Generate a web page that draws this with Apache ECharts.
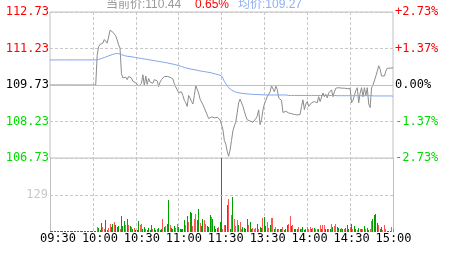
<!DOCTYPE html>
<html><head><meta charset="utf-8">
<script src="https://cdn.jsdelivr.net/npm/echarts@6/dist/echarts.min.js"></script>
<style>html,body{margin:0;padding:0;background:#fff}#c{width:463px;height:255px}</style>
</head><body><div id="c"></div><script>
const prevClose = 109.73;
const timeLabels = ['09:30','10:00','10:30','11:00','11:30','13:30','14:00','14:30','15:00'];
const prices = [
109.73,109.73,109.73,109.73,109.73,109.73,109.73,109.73,109.73,109.73,
109.73,109.73,109.73,109.73,109.73,109.73,109.73,109.73,109.73,109.73,
109.73,109.73,109.73,109.73,109.73,109.73,109.73,109.73,109.73,109.73,
109.73,109.73,109.73,110.95,111.30,111.40,111.47,111.45,111.60,111.58,
111.45,111.70,111.98,111.95,111.90,111.88,111.75,111.58,111.38,111.25,
110.20,110.02,109.98,110.05,109.95,110.08,110.12,110.02,109.88,109.92,
109.82,109.78,109.68,109.72,109.80,110.15,109.70,110.10,109.75,110.00,
109.85,109.92,109.80,109.95,109.88,109.90,109.66,109.85,109.95,110.00,
110.08,110.06,110.08,110.03,110.05,110.00,109.98,109.78,109.65,109.53,
109.42,109.38,109.45,109.30,109.10,109.00,108.85,109.30,109.20,109.05,
108.95,109.30,109.70,109.62,109.40,109.15,109.08,108.92,108.78,108.70,
108.50,108.35,108.28,108.42,108.46,108.38,108.44,108.40,108.35,108.30,
108.25,107.90,107.45,107.30,107.00,106.80,107.05,107.45,107.85,108.05,
108.20,108.60,109.00,109.15,109.12,108.85,108.65,108.45,108.30,108.35,
108.25,108.30,108.20,108.25,108.35,108.45,108.71,108.10,108.30,108.70,
108.95,109.10,109.25,109.35,109.45,109.70,109.78,109.45,109.68,109.55,
109.20,109.15,109.10,108.60,108.55,108.65,108.62,108.58,108.60,108.55,
108.58,108.52,108.55,108.50,108.55,108.52,108.85,109.12,108.72,108.95,
109.05,108.85,108.82,109.00,108.95,109.05,109.12,109.00,109.25,109.05,
109.05,109.40,109.25,109.35,109.20,109.40,109.45,109.53,109.25,109.45,
109.60,109.62,109.62,109.60,109.60,109.61,109.60,109.58,109.58,109.60,
109.58,109.00,109.10,109.30,109.50,109.62,109.00,109.40,109.62,109.25,
109.62,109.30,109.62,108.95,108.80,109.61,109.73,109.80,110.10,110.30,
110.52,110.38,110.10,110.08,110.10,110.30,110.42,110.44,110.42,110.44,
110.44
];
const avgPrices = [
110.76,110.76,110.76,110.76,110.76,110.76,110.76,110.76,110.76,110.76,
110.76,110.76,110.76,110.76,110.76,110.76,110.76,110.76,110.76,110.76,
110.76,110.76,110.76,110.76,110.76,110.76,110.76,110.76,110.76,110.76,
110.76,110.76,110.76,110.76,
110.78,110.80,110.82,110.84,110.86,110.88,110.90,110.92,110.95,110.97,110.99,111.01,111.02,111.03,
111.02,111.00,110.98,110.96,110.94,110.92,110.91,110.90,110.90,110.89,110.88,110.87,110.86,
110.85,110.84,110.83,110.82,110.81,110.80,110.79,110.78,110.77,110.76,110.75,110.74,110.73,110.72,110.71,
110.70,110.69,110.68,110.67,110.66,110.65,110.64,110.62,110.61,110.60,110.59,110.58,110.56,110.55,110.53,
110.51,110.49,110.47,110.45,110.43,110.42,110.40,110.39,110.38,110.37,110.36,110.35,110.34,110.32,110.31,
110.30,110.29,110.28,110.27,110.26,110.25,110.24,110.22,110.21,110.20,110.18,110.17,110.15,110.13,110.10,
110.00,109.88,109.78,109.70,109.62,109.56,109.52,109.49,109.46,109.44,109.42,109.41,109.40,109.39,109.38,
109.37,109.37,109.36,109.36,109.35,109.35,109.35,109.34,109.34,109.34,109.33,109.33,109.33,109.33,109.33,
109.32,109.32,109.32,109.32,109.32,109.32,109.32,109.32,109.32,109.32,109.32,109.32,109.32,109.32,109.32,
109.30,109.30,109.30,109.30,109.30,109.30,109.30,109.30,109.30,109.30,
109.30,109.30,109.30,109.30,109.30,109.30,109.30,109.30,109.30,109.30,
109.30,109.30,109.30,109.30,109.30,109.30,109.30,109.30,109.30,109.30,
109.30,109.30,109.30,109.30,109.30,
109.29,109.29,109.29,109.29,109.29,109.29,109.29,109.29,109.29,109.29,
109.29,109.29,109.29,109.29,109.29,109.29,109.29,109.29,109.29,109.29,
109.29,109.29,109.29,109.29,109.29,
109.28,109.28,109.28,109.28,109.28,109.28,109.28,109.28,109.28,109.28,109.28,109.28,109.28,109.28,
109.27
];
const volumes = [
4,4,4,4,4,4,4,4,4,4,
4,4,4,4,4,4,4,4,4,4,
4,4,4,4,4,4,4,4,4,4,
4,4,4,17,14,8,32,17,10,42,
8,14,28,17,28,35,24,17,21,10,
56,20,38,24,45,24,21,17,10,14,
7,8,38,24,28,10,17,10,8,14,
7,24,10,14,8,10,14,8,10,47,
18,21,29,111,23,15,10,21,14,27,
17,9,9,12,41,23,56,35,70,67,
20,46,64,41,81,31,20,46,41,29,
21,17,60,52,46,21,10,15,17,35,
258,12,23,23,93,116,12,60,122,47,
20,43,23,35,9,17,14,10,46,25,
35,12,14,12,15,29,12,17,14,50,
52,20,35,14,23,50,50,10,17,9,
12,9,9,17,8,12,23,29,56,21,
25,12,9,12,17,9,12,17,6,10,
17,12,17,12,15,15,12,12,12,23,
9,25,25,9,12,12,10,29,17,20,
27,17,15,10,15,12,12,14,25,10,
17,29,12,21,9,8,15,12,9,9,
20,9,15,8,12,37,46,60,64,30,
25,12,17,6,25,12,3,3,3,17,
10
];
const volDir = ('gggggggggg gggggggggg gggggggggg gggrgggrrg grrggrgggr gggrgrgrgr gggrrggrgg ggrggrgggr ' +
  'grggrgggrr gggggrgrgg rrrggrggrr gggrggggrg grrggrgrgr rrgrrggggr ggrrrgrggr ggrrgrrgrg ' +
  'rggrgggrrg rgggrgrggg rrrgrgrrgr grrggrgrgr rgggrgrggg rgrggrgrgr grggrrgggg rggrrrgggr r').replace(/ /g,'').split('');

const times = [];
const fmt = m => String(Math.floor(m/60)).padStart(2,'0') + ':' + String(m%60).padStart(2,'0');
for (let m = 9*60+30; m <= 11*60+30; m++) times.push(fmt(m));
for (let m = 13*60+1; m <= 15*60; m++) times.push(fmt(m));

const mono = '"DejaVu Sans Mono", monospace';
const UP = '#ff0000', DOWN = '#00dd00';
const BAR_UP = '#ff5555', BAR_DOWN = '#00a000';
const gridLine = '#c0c0c0';
const dashed = {type:[3,2], color:'#c8c8c8', width:1};
const isSplit = (i) => i > 0 && i < times.length - 1 && i % 30 === 0;
const signColor = v => { v = +v; return v > 1e-9 ? UP : (v < -1e-9 ? DOWN : '#000'); };

const lastPrice = prices[prices.length-1];
const chgPct = (lastPrice - prevClose) / prevClose * 100;
const lastAvg = avgPrices[avgPrices.length-1];

const chart = echarts.init(document.getElementById('c'));
const catAxis = (gi) => ({
  gridIndex: gi, type:'category', data: times, boundaryGap:false,
  axisLine:{show:false}, axisTick:{show:false}, axisLabel:{show:false},
  splitLine:{show:true, interval:(i)=>isSplit(i), lineStyle:dashed}
});
chart.setOption({
  animation:false,
  grid:[
    {left:50, width:343, top:12, height:146, show:true, borderColor:gridLine, borderWidth:1, backgroundColor:'transparent'},
    {left:50, width:343, top:158, height:74},
    {left:58, width:335.5, top:231, height:1}
  ],
  xAxis:[
    catAxis(0), catAxis(1),
    {gridIndex:2, type:'category', data: timeLabels, boundaryGap:false,
     axisLine:{show:false}, axisTick:{show:false}, splitLine:{show:false},
     axisLabel:{show:true, interval:0, margin:1, color:'#000', fontSize:12, fontFamily:mono}}
  ],
  yAxis:[
    {gridIndex:0, type:'value', min:-3, max:3, interval:1.5, position:'left',
     axisLine:{show:false}, axisTick:{show:false},
     splitLine:{show:true, lineStyle:dashed},
     axisLabel:{margin:1, fontSize:12, fontFamily:mono,
       formatter: v => (prevClose + v).toFixed(2), color: v => signColor(v)}},
    {gridIndex:0, type:'value', min:-3, max:3, interval:1.5, position:'right',
     axisLine:{show:false}, axisTick:{show:false}, splitLine:{show:false},
     axisLabel:{margin:2, fontSize:12, fontFamily:mono,
       formatter: v => (v > 0 ? '+' : '') + (v / prevClose * 100).toFixed(2) + '%', color: v => signColor(v)}},
    {gridIndex:1, type:'value', min:0, max:258, interval:129, position:'left',
     axisLine:{show:true, lineStyle:{color:gridLine, width:1}}, axisTick:{show:false}, splitLine:{show:false},
     axisLabel:{margin:2, fontSize:12, fontFamily:mono, color:'#c8c8c8',
       formatter: v => (v === 129 ? String(v) : '')}},
    {gridIndex:1, type:'value', min:0, max:258, interval:129, position:'right',
     axisLine:{show:true, lineStyle:{color:gridLine, width:1}}, axisTick:{show:false}, splitLine:{show:false},
     axisLabel:{show:false}},
    {gridIndex:2, type:'value', show:false}
  ],
  series:[
    {type:'line', xAxisIndex:0, yAxisIndex:0, data: prices.map(p => +(p - prevClose).toFixed(4)),
     showSymbol:false, symbol:'none', lineStyle:{color:'#8c8c8c', width:1}, silent:true, z:3,
     markLine:{silent:true, symbol:['none','none'], label:{show:false}, animation:false,
       lineStyle:{type:'solid', color:gridLine, width:1}, data:[{yAxis:0}]}},
    {type:'line', xAxisIndex:0, yAxisIndex:0, data: avgPrices.map(p => +(p - prevClose).toFixed(4)),
     showSymbol:false, symbol:'none', lineStyle:{color:'#7fa4ec', width:1}, silent:true, z:4},
    {type:'custom', xAxisIndex:1, yAxisIndex:2, silent:true, clip:false,
     data: volumes.map((v,i) => [i, v]),
     encode:{x:0, y:1},
     renderItem: (params, api) => {
       const i = api.value(0), v = api.value(1);
       const top = api.coord([i, v]);
       const bot = api.coord([i, 0]);
       const x = Math.floor(top[0]);
       const y1 = Math.round(top[1]);
       const y0 = Math.round(bot[1]);
       return {type:'rect', shape:{x:x, y:y1, width:1, height:Math.max(1, y0 - y1)},
               style:{fill: volDir[params.dataIndex] === 'r' ? BAR_UP : BAR_DOWN}};
     },
     markLine:{silent:true, symbol:['none','none'], label:{show:false}, animation:false,
       lineStyle:{type:[3,2], color:'#c8c8c8', width:1}, data:[{yAxis:129}]}}
  ],
  graphic:[
    {type:'text', left:106, top:-1, style:{text:'当前价:' + lastPrice.toFixed(2), fill:'#999999', font:'12px "Liberation Sans","Noto Sans CJK SC"'}},
    {type:'text', left:195, top:-1, style:{text:chgPct.toFixed(2) + '%', fill:UP, font:'12px "Liberation Sans","Noto Sans CJK SC"'}},
    {type:'text', left:238, top:-1, style:{text:'均价:' + lastAvg.toFixed(2), fill:'#8fb0ee', font:'12px "Liberation Sans","Noto Sans CJK SC"'}}
  ]
});
</script></body></html>
